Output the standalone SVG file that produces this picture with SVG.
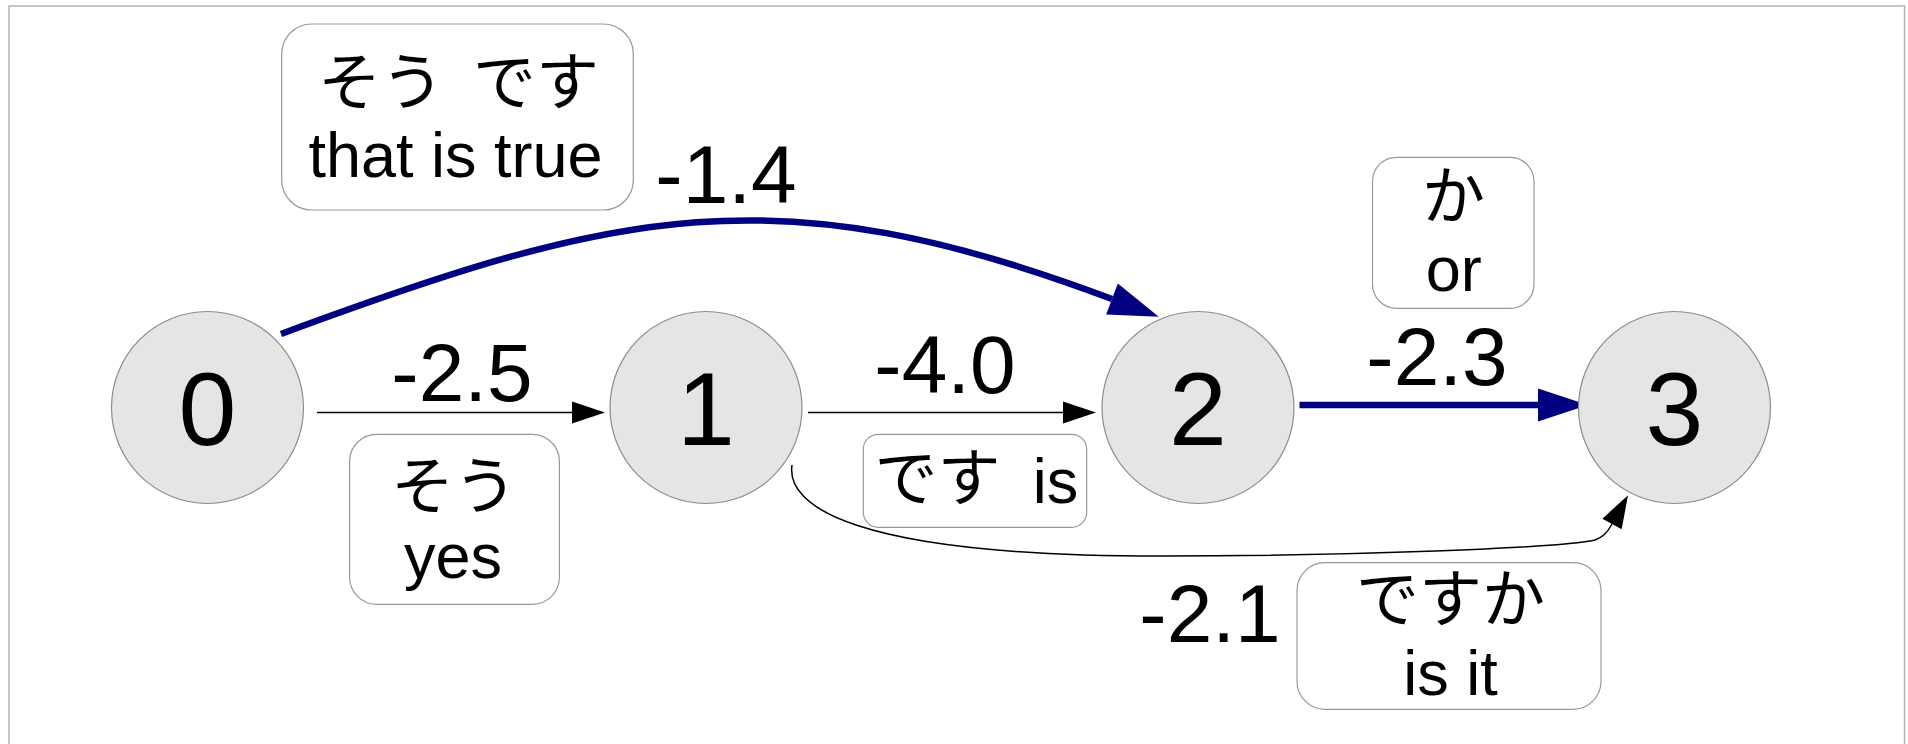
<svg xmlns="http://www.w3.org/2000/svg" width="1908" height="744" viewBox="0 0 1908 744">
<style>
text{font-family:"Liberation Sans","Noto Sans CJK JP",sans-serif;fill:#000}
.node{fill:#e5e5e5;stroke:#8c8c8c;stroke-width:1.2}
.nl{font-size:104px;text-anchor:middle}
.box{fill:#fff;stroke:#999;stroke-width:1.2}
.bt{font-size:63px;text-anchor:middle}
.w{font-size:82px;text-anchor:middle}
.thin{fill:none;stroke:#000;stroke-width:1.5}
.thick{fill:none;stroke:#000080;stroke-width:6.5}
</style>
<defs>
<marker id="ah" markerUnits="userSpaceOnUse" markerWidth="40" markerHeight="30" refX="0" refY="15" orient="auto" overflow="visible">
<polygon points="0,4 33,15 0,26" fill="#000"/>
</marker>
<marker id="ahb" markerUnits="userSpaceOnUse" markerWidth="60" markerHeight="40" refX="0" refY="20" orient="auto" overflow="visible">
<polygon points="0,3.5 50,20 0,36.5" fill="#000080"/>
</marker>
</defs>
<rect x="9" y="6" width="1895.5" height="800" fill="#fff" stroke="#b4b4b4" stroke-width="1.5"/>
<g id="connectors">
<path class="thin" d="M317,412.5 L572,412.5" marker-end="url(#ah)"/>
<path class="thin" d="M808,412.5 L1063,412.5" marker-end="url(#ah)"/>
<path class="thick" d="M281,334 C617,209.7 776,172 1112,299" marker-end="url(#ahb)"/>
<path class="thick" d="M1299.5,405 L1538,405" marker-end="url(#ahb)"/>
<path class="thin" d="M792,465 C786,505 850,556 1160,556 C1350,556 1560,548 1595,540 C1603,537 1607,533 1612,524" marker-end="url(#ah)"/>
<text class="w" x="462" y="401">-2.5</text>
<text class="w" x="945" y="392.7">-4.0</text>
<text class="w" x="726" y="203">-1.4</text>
<text class="w" x="1437" y="385">-2.3</text>
<text class="w" x="1210" y="641.7">-2.1</text>
</g>
<g id="node0">
<circle class="node" cx="207.5" cy="407.5" r="96"/>
<text class="nl" x="207.5" y="445">0</text>
</g>
<g id="node1">
<circle class="node" cx="706" cy="407.5" r="96"/>
<text class="nl" x="706" y="445">1</text>
</g>
<g id="node2">
<circle class="node" cx="1198" cy="407.5" r="96"/>
<text class="nl" x="1198" y="445">2</text>
</g>
<g id="node3">
<circle class="node" cx="1674.5" cy="407.5" r="96"/>
<text class="nl" x="1674.5" y="445">3</text>
</g>
<g id="label-sou-desu">
<rect class="box" x="281.7" y="24" width="351.6" height="186" rx="30"/>
<text class="bt" x="381" y="104">そう</text>
<text class="bt" x="536" y="104">です</text>
<text class="bt" x="455.5" y="176.7">that is true</text>
</g>
<g id="label-sou">
<rect class="box" x="349.6" y="434.3" width="209.8" height="170" rx="27"/>
<text class="bt" x="454" y="508">そう</text>
<text class="bt" x="453" y="578.3">yes</text>
</g>
<g id="label-desu">
<rect class="box" x="863.3" y="434.3" width="223.4" height="93" rx="15"/>
<text class="bt" x="937.5" y="499.5">です</text>
<text class="bt" x="1055.5" y="503">is</text>
</g>
<g id="label-ka">
<rect class="box" x="1372.5" y="157.3" width="161.5" height="151" rx="24"/>
<text class="bt" x="1453.5" y="217.5">か</text>
<text class="bt" x="1453.8" y="291">or</text>
</g>
<g id="label-desuka">
<rect class="box" x="1297" y="562.7" width="304" height="146.6" rx="28"/>
<text class="bt" x="1450.5" y="621">ですか</text>
<text class="bt" x="1450.5" y="695">is it</text>
</g>
</svg>
